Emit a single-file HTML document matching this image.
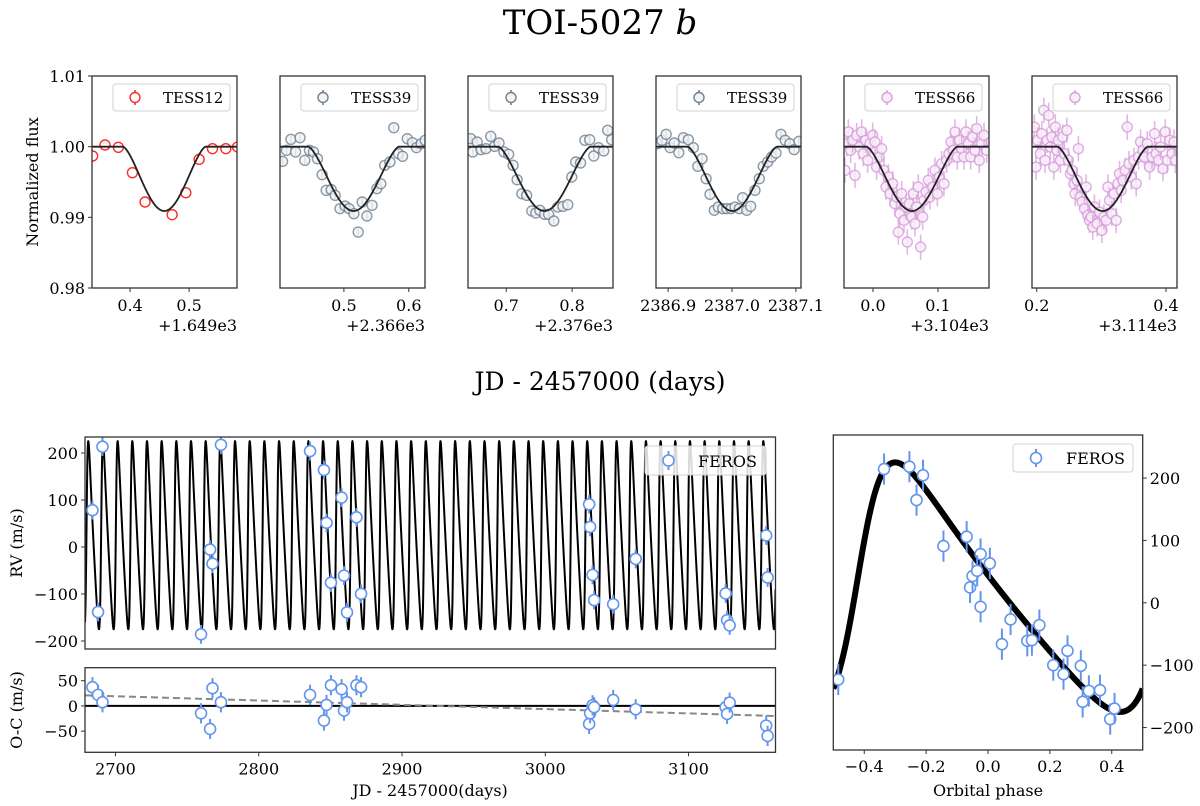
<!DOCTYPE html>
<html><head><meta charset="utf-8"><style>
html,body{margin:0;padding:0;background:#fff;}
svg{display:block;font-family:"DejaVu Serif","Liberation Serif",serif;}
</style></head><body>
<svg id="fig" width="1200" height="806" viewBox="0 0 1200 806" xmlns="http://www.w3.org/2000/svg">
<text x="600" y="34" font-size="34" text-anchor="middle">TOI-5027 <tspan font-style="italic">b</tspan></text>
<text x="600" y="390" font-size="25" text-anchor="middle">JD - 2457000 (days)</text>
<text transform="translate(38,182) rotate(-90)" font-size="16" text-anchor="middle">Normalized flux</text>
<text transform="translate(22,543) rotate(-90)" font-size="16" text-anchor="middle">RV (m/s)</text>
<text transform="translate(22,710) rotate(-90)" font-size="16" text-anchor="middle">O-C (m/s)</text>
<text x="430" y="796" font-size="16" text-anchor="middle">JD - 2457000(days)</text>
<text x="988" y="796" font-size="16" text-anchor="middle">Orbital phase</text>
</svg>
<script>
// ---------- Light curve data ----------
const lcNames = ['TESS12','TESS39','TESS39','TESS39','TESS66','TESS66'];
const lcCenters = [0.458,0.515,0.758,2387.0005,0.060,0.302];
const lcDepth = 0.0091;
const lcDuration = 0.140;
const lcXmin = [0.3356,0.4015,0.642,2386.881,-0.0446,0.1927];
const lcXmax = [0.581,0.625,0.862,2387.108,0.1785,0.417];
const lcTicks = [[0.4,0.5],[0.5,0.6],[0.7,0.8],[2386.9,2387.0,2387.1],[0.0,0.1],[0.2,0.4]];
const lcOffsets = ['+1.649e3','+2.366e3','+2.376e3','','+3.104e3','+3.114e3'];
const fluxTicks = [1.01,1.00,0.99,0.98];
const lcT1 = [0.3367,0.3576,0.3802,0.404,0.4254,0.4712,0.4944,0.5169,0.5395,0.5621,0.5819];
const lcF1 = [0.99868,1.00024,0.99991,0.99632,0.99217,0.99038,0.99349,0.99821,0.99972,0.99972,0.99995];
const lcT2 = [0.4054,0.4115,0.4183,0.4255,0.4323,0.4397,0.4469,0.4531,0.4592,0.4665,0.4726,0.4805,0.4866,0.494,0.5019,0.508,0.5154,0.522,0.5282,0.5355,0.5434,0.5508,0.5569,0.5629,0.5709,0.5769,0.5843,0.5904,0.5977,0.6057,0.6118,0.6191,0.6252];
const lcF2 = [0.99792,0.99948,1.00104,0.99925,1.00127,0.99807,0.99948,0.99925,0.9983,0.99604,0.99382,0.99392,0.99311,0.99123,0.9916,0.99123,0.99052,0.98792,0.99217,0.99019,0.9917,0.99406,0.99476,0.99736,0.99783,1.00269,0.99901,0.99863,1.00113,1.00057,0.99986,1.00042,1.0009];
const lcT3 = [0.6461,0.6492,0.6559,0.6618,0.6692,0.6765,0.6824,0.6891,0.6965,0.7037,0.7104,0.7165,0.7237,0.731,0.7388,0.7449,0.751,0.7582,0.7643,0.7722,0.7782,0.7861,0.7934,0.7994,0.8055,0.8128,0.8194,0.8267,0.8328,0.84,0.8479,0.8539,0.86];
const lcF3 = [1.00113,0.99925,1.00066,0.99958,0.99972,1.00146,1.00005,1.00052,0.99925,0.99892,0.99736,0.99533,0.99335,0.99311,0.9909,0.99061,0.99099,0.99042,0.99042,0.98948,0.99146,0.99156,0.99179,0.99571,0.99783,0.99769,1.0009,1.00099,0.99868,0.99986,0.99939,1.00231,1.00099];
const lcT4 = [2386.8833,2386.8902,2386.8969,2386.9031,2386.9094,2386.9167,2386.9239,2386.9317,2386.9395,2386.9464,2386.9531,2386.9594,2386.9656,2386.9723,2386.9786,2386.9855,2386.9917,2386.9984,2387.0047,2387.0114,2387.0167,2387.023,2387.0292,2387.0359,2387.0427,2387.0489,2387.0558,2387.062,2387.0688,2387.0766,2387.0833,2387.0906,2387.0973,2387.1047];
const lcF4 = [1.00042,1.0009,1.00175,0.99986,1.00052,0.99915,1.00127,1.00099,0.99986,0.99722,0.9983,0.99547,0.99325,0.991,0.99146,0.99123,0.99123,0.99123,0.99146,0.99123,0.99278,0.991,0.99156,0.99382,0.99547,0.99722,0.99783,0.99854,0.9991,1.00175,1.0009,1.00042,0.99958,1.00075];
const lcT5 = [-0.0431,-0.0405,-0.0379,-0.0344,-0.0313,-0.0277,-0.0251,-0.021,-0.0174,-0.0149,-0.0113,-0.0082,-0.0046,-0.0005,0.0031,0.0056,0.0097,0.0133,0.0169,0.02,0.0236,0.0262,0.0303,0.0338,0.0364,0.039,0.0415,0.0441,0.0477,0.0508,0.0528,0.0559,0.0595,0.0621,0.0646,0.0672,0.0697,0.0733,0.0764,0.0785,0.0815,0.0851,0.0877,0.0918,0.0954,0.099,0.1021,0.1056,0.1092,0.1133,0.1169,0.12,0.1236,0.1262,0.1297,0.1328,0.1364,0.14,0.1431,0.1467,0.1503,0.1533,0.1569,0.1595,0.1636,0.1672,0.1708,0.1749];
const lcF5 = [0.99665,1.00042,1.00208,0.99948,1.0009,0.99594,1.0016,0.99995,1.00208,0.99901,1.0009,0.99807,1.00042,1.0016,1.00066,0.99712,0.99854,0.99972,0.99665,0.99429,0.99571,0.99335,0.99476,0.99193,0.99288,0.98792,0.99052,0.99335,0.98958,0.99146,0.98651,0.99193,0.99005,0.99335,0.9891,0.99146,0.99429,0.9858,0.99005,0.99241,0.99358,0.99524,0.99288,0.99429,0.99665,0.99335,0.99571,0.99759,0.99476,0.99807,0.99901,1.00066,0.99948,1.00208,0.99854,1.0009,0.99972,0.99854,1.00208,1.00042,0.99854,1.00137,0.99948,1.00255,0.99807,1.00042,1.0016,0.99948];
const lcT6 = [0.1963,0.1989,0.2016,0.2056,0.2078,0.2109,0.2129,0.216,0.2186,0.2211,0.2233,0.2264,0.2288,0.2315,0.2335,0.2366,0.2403,0.2428,0.2465,0.249,0.2521,0.2547,0.2574,0.2594,0.2625,0.2645,0.2676,0.2702,0.2738,0.2764,0.2791,0.2816,0.2842,0.2868,0.2893,0.2935,0.2971,0.3008,0.3039,0.3074,0.3101,0.3126,0.3163,0.3194,0.3229,0.3256,0.3281,0.3307,0.3333,0.3369,0.34,0.3426,0.3462,0.3504,0.3539,0.3575,0.3606,0.3643,0.3668,0.371,0.3746,0.3783,0.3823,0.3849,0.3885,0.3916,0.3953,0.3989,0.402,0.4056,0.4093,0.4124,0.4144];
const lcF6 = [1.00278,0.99712,1.0009,0.99901,1.00184,1.00514,0.99807,1.0009,1.00443,0.99995,1.00137,0.99712,1.00278,0.99948,1.0009,0.99807,1.00137,0.99901,1.00231,0.99807,0.99618,0.99665,0.99476,0.99335,0.99524,0.99972,0.99288,0.99217,0.99123,0.99429,0.99028,0.98958,0.99005,0.98863,0.99146,0.9891,0.99075,0.98816,0.99005,0.98958,0.99429,0.99241,0.99052,0.99335,0.98958,0.99476,0.99618,0.99382,0.99524,0.99665,1.00278,0.99759,0.99571,0.99807,0.99476,0.99854,1.00066,0.99948,0.99854,1.00042,0.99712,0.99854,1.00184,0.99901,0.99807,0.99995,0.99689,1.00208,0.99807,1.0009,0.99901,1.00066,0.99807];
const lcErr = [0.0003,0.0005,0.0005,0.0005,0.0018,0.0018];

// ---------- RV data ----------
const rvTime = [2683.9,2687.8,2690.9,2759.7,2766.0,2767.7,2773.6,2835.8,2845.5,2847.3,2850.4,2857.8,2859.5,2861.6,2868.2,2871.4,3030.6,3031.3,3033.0,3034.1,3047.4,3063.1,3125.9,3126.9,3128.7,3154.2,3155.2];
const rvValue = [78.3,-138.3,213.4,-185.8,-5.5,-35.6,217.4,204,163.6,51.4,-75.9,105.1,-60.9,-139.1,63.2,-99.6,90.9,42.7,-59.3,-113,-121.7,-25.3,-98.8,-155.7,-166.8,24.5,-64.8];
const ocValue = [37.1,21.9,7.3,-14.6,-45.7,35.1,7.3,21.9,-29.1,2,41.1,33.1,-9.3,7.3,41.1,37.1,-35.8,-14.6,1.3,-2.6,11.9,-6.6,-2.6,-15.9,6.6,-39.1,-59.6];
const rvErr = 20;
const phaseValue = [-0.484,-0.336,-0.254,-0.210,-0.231,-0.144,-0.069,-0.024,0.006,-0.058,-0.050,-0.035,-0.024,0.045,0.073,0.127,0.142,0.166,0.211,0.244,0.257,0.300,0.306,0.326,0.362,0.395,0.409];
const phaseRV = [-123,214.4,218.2,204.3,164.7,90.9,105.9,78.1,63.1,24.6,42.8,51.3,-6.4,-66.3,-26.7,-61,-59.9,-35.8,-100,-114.4,-77,-101,-158.8,-141.2,-140.1,-186.6,-169.5];
const rvTicks = [200,100,0,-100,-200];
const ocTicks = [50,0,-50];
const timeTicks = [2700,2800,2900,3000,3100];
const phaseTicks = [-0.4,-0.2,0.0,0.2,0.4];
const phaseYTicks = [200,100,0,-100,-200];
const orbPeriod = 10.2437, orbT0 = 2387.0005, orbK = 200, orbE = 0.37, orbOmegaDeg = 280, orbGamma = 12.2, orbPeriPhase = -0.414;
const trendStart = [2678.7, 21], trendEnd = [3160.7, -20];

const svg = document.getElementById('fig');
const NS = 'http://www.w3.org/2000/svg';
function mk(tag, attrs, parent){const e=document.createElementNS(NS,tag);for(const k in attrs)e.setAttribute(k,attrs[k]);(parent||svg).appendChild(e);return e;}
function txt(s, attrs, parent){const e=mk('text',attrs,parent);e.textContent=s;return e;}

function transit(t, tc){const u=Math.abs(t-tc)/(lcDuration/2);if(u>=1)return 1;return 1-lcDepth*Math.pow((1+Math.cos(Math.PI*u))/2,0.75);}

const lcColors = ['#ff2a2a','#708090','#708090','#708090','#d9a0dd','#d9a0dd'];
const lcFill = ['#ffffff','#f2f4f6','#f2f4f6','#f2f4f6','#f8eef8','#f8eef8'];
const lcT = [lcT1,lcT2,lcT3,lcT4,lcT5,lcT6];
const lcF = [lcF1,lcF2,lcF3,lcF4,lcF5,lcF6];
const TOP=76, BOT=288, PW=145;
for(let p=0;p<6;p++){
  const L = 92 + p*188;
  const g = mk('g',{});
  
  
  const xs = t => L + (t-lcXmin[p])/(lcXmax[p]-lcXmin[p])*PW;
  const ys = f => TOP + (1.01-f)/0.03*(BOT-TOP);
  const cid='clip'+p;
  const cp=mk('clipPath',{id:cid},g); mk('rect',{x:L,y:TOP,width:PW,height:BOT-TOP},cp);
  const dg = mk('g',{'clip-path':'url(#'+cid+')'},g);
  for(let i=0;i<lcT[p].length;i++){
    const x=xs(lcT[p][i]), y=ys(lcF[p][i]), e=lcErr[p];
    const ln=mk('line',{x1:x,x2:x,y1:ys(lcF[p][i]+e),y2:ys(lcF[p][i]-e),stroke:lcColors[p],'stroke-width':1.6,opacity:p>=4?0.75:0.8},dg);
    
    
    const c=mk('circle',{cx:x,cy:y,r:5,fill:lcFill[p],stroke:lcColors[p],'stroke-width':1.4,opacity:p>=4?0.85:(p>0?0.8:1)},dg);
    
    
  }
  let d='';
  for(let k=0;k<=300;k++){const t=lcXmin[p]+(lcXmax[p]-lcXmin[p])*k/300;d+=(k?'L':'M')+xs(t).toFixed(2)+','+ys(transit(t,lcCenters[p])).toFixed(2);}
  const m=mk('path',{d:d,fill:'none',stroke:'#222','stroke-width':1.8},dg);
  
  
  const fr=mk('rect',{x:L,y:TOP,width:PW,height:BOT-TOP,fill:'none',stroke:'#333','stroke-width':1.3},g);
  
  
  for(const tv of lcTicks[p]){
    const x=xs(tv);
    mk('line',{x1:x,x2:x,y1:BOT,y2:BOT+4,stroke:'#333','stroke-width':1},g);
    const tl=txt(tv.toFixed(1),{x:x,y:BOT+23,'font-size':16,'text-anchor':'middle'},g);
    
    
  }
  if(lcOffsets[p]){const o=txt(lcOffsets[p],{x:L+PW,y:BOT+43,'font-size':16,'text-anchor':'end'},g);
    
    }
  if(p===0){
    for(const fv of fluxTicks){const y=ys(fv);mk('line',{x1:L-4,x2:L,y1:y,y2:y,stroke:'#333'},g);
      const yl=txt(fv.toFixed(2),{x:L-7,y:y+6,'font-size':16,'text-anchor':'end'},g);
      
      }
  }
  const lg=mk('g',{},g);
  
  
  mk('rect',{x:L+21,y:84,width:117,height:27,rx:3,fill:'#fff','fill-opacity':0.85,stroke:'#d0d0d0'},lg);
  mk('line',{x1:L+43,x2:L+43,y1:90,y2:105,stroke:lcColors[p],'stroke-width':1.6},lg);
  mk('circle',{cx:L+43,cy:97.5,r:5,fill:lcFill[p],stroke:lcColors[p],'stroke-width':1.4},lg);
  txt(lcNames[p],{x:L+71,y:103,'font-size':15},lg);
}

// ---------- Kepler RV model ----------
function rvModel(phase){
  const M = 2*Math.PI*(phase - orbPeriPhase);
  let E=M; for(let i=0;i<30;i++){E = E - (E - orbE*Math.sin(E) - M)/(1-orbE*Math.cos(E));}
  const nu = 2*Math.atan2(Math.sqrt(1+orbE)*Math.sin(E/2), Math.sqrt(1-orbE)*Math.cos(E/2));
  const w = orbOmegaDeg*Math.PI/180;
  return orbK*(Math.cos(nu+w)+orbE*Math.cos(w))+orbGamma;
}
function phaseOf(t){let ph=((t-orbT0)/orbPeriod)%1; if(ph<0)ph+=1; if(ph>=0.5)ph-=1; return ph;}

const BLUE='#6495ed';
function rvPoint(parent,x,y,yerrTop,yerrBot,name){
  const l=mk('line',{x1:x,x2:x,y1:yerrTop,y2:yerrBot,stroke:BLUE,'stroke-width':2},parent);
  
  
  const c=mk('circle',{cx:x,cy:y,r:5.5,fill:'#fff',stroke:BLUE,'stroke-width':1.6},parent);
  
  
}

// RV vs time
const RL=85, RR=775.5, RT=437, RB=649, XMIN=2678.7, XMAX=3160.7, YMIN=-217, YMAX=234;
const tx = t => RL+(t-XMIN)/(XMAX-XMIN)*(RR-RL);
const ry = v => RT+(YMAX-v)/(YMAX-YMIN)*(RB-RT);
const rvg=mk('g',{});  
const cpr=mk('clipPath',{id:'cliprv'},rvg); mk('rect',{x:RL,y:RT,width:RR-RL,height:RB-RT},cpr);
const rvd=mk('g',{'clip-path':'url(#cliprv)'},rvg);
let dd='';
for(let t=XMIN;t<=XMAX;t+=0.04){dd+=(dd?'L':'M')+tx(t).toFixed(2)+','+ry(rvModel(phaseOf(t))).toFixed(2);}
const rvl=mk('path',{d:dd,fill:'none',stroke:'#000','stroke-width':2},rvd);


for(let i=0;i<rvTime.length;i++){rvPoint(rvd,tx(rvTime[i]),ry(rvValue[i]),ry(rvValue[i]+rvErr),ry(rvValue[i]-rvErr),'rv-point');}
mk('rect',{x:RL,y:RT,width:RR-RL,height:RB-RT,fill:'none',stroke:'#333','stroke-width':1.3},rvg);
for(const v of rvTicks){const y=ry(v);mk('line',{x1:RL-4,x2:RL,y1:y,y2:y,stroke:'#333'},rvg);
  const l=txt(v===0?'0':(v<0?'\u2212'+(-v):''+v),{x:RL-7,y:y+6,'font-size':16,'text-anchor':'end'},rvg);
   }
const rlg=mk('g',{},rvg);  
mk('rect',{x:645,y:446,width:121,height:29,rx:3,fill:'#fff','fill-opacity':0.85,stroke:'#d0d0d0'},rlg);
rvPoint(rlg,668.5,460.5,451,470,'legend-marker');
txt('FEROS',{x:698,y:467,'font-size':16},rlg);

// O-C panel
const OT=667.7, OB=752.3, OYMIN=-92, OYMAX=75.8;
const oy = v => OT+(OYMAX-v)/(OYMAX-OYMIN)*(OB-OT);
const ocg=mk('g',{});  
const cpo=mk('clipPath',{id:'clipoc'},ocg); mk('rect',{x:RL,y:OT,width:RR-RL,height:OB-OT},cpo);
const ocd=mk('g',{'clip-path':'url(#clipoc)'},ocg);
const zl=mk('line',{x1:RL,x2:RR,y1:oy(0),y2:oy(0),stroke:'#000','stroke-width':2},ocd);
 
const tl=mk('line',{x1:tx(trendStart[0]),x2:tx(trendEnd[0]),y1:oy(trendStart[1]),y2:oy(trendEnd[1]),stroke:'#888','stroke-width':2,'stroke-dasharray':'7,4'},ocd);
 
for(let i=0;i<rvTime.length;i++){rvPoint(ocd,tx(rvTime[i]),oy(ocValue[i]),oy(ocValue[i]+rvErr),oy(ocValue[i]-rvErr),'oc-point');}
mk('rect',{x:RL,y:OT,width:RR-RL,height:OB-OT,fill:'none',stroke:'#333','stroke-width':1.3},ocg);
for(const v of ocTicks){const y=oy(v);mk('line',{x1:RL-4,x2:RL,y1:y,y2:y,stroke:'#333'},ocg);
  const l=txt(v===0?'0':(v<0?'\u2212'+(-v):''+v),{x:RL-7,y:y+6,'font-size':16,'text-anchor':'end'},ocg);
   }
for(const t of timeTicks){const x=tx(t);mk('line',{x1:x,x2:x,y1:OB,y2:OB+4,stroke:'#333'},ocg);
  const l=txt(''+t,{x:x,y:OB+22,'font-size':16,'text-anchor':'middle'},ocg);
   }

// Phase panel
const PL=833.3, PR=1142.7, PT=435, PB=750, PYMIN=-236, PYMAX=269;
const px = ph => PL+(ph+0.5)*(PR-PL);
const py = v => PT+(PYMAX-v)/(PYMAX-PYMIN)*(PB-PT);
const phg=mk('g',{});  
const cpp=mk('clipPath',{id:'clipph'},phg); mk('rect',{x:PL,y:PT,width:PR-PL,height:PB-PT},cpp);
const phd=mk('g',{'clip-path':'url(#clipph)'},phg);
let pd='';
for(let k=0;k<=500;k++){const ph=-0.5+k/500;pd+=(k?'L':'M')+px(ph).toFixed(2)+','+py(rvModel(ph)).toFixed(2);}
const pl=mk('path',{d:pd,fill:'none',stroke:'#000','stroke-width':6,'stroke-linejoin':'round'},phd);
 
for(let i=0;i<phaseValue.length;i++){rvPoint(phd,px(phaseValue[i]),py(phaseRV[i]),py(phaseRV[i]+rvErr+5),py(phaseRV[i]-rvErr-5),'phased-rv-point');}
mk('rect',{x:PL,y:PT,width:PR-PL,height:PB-PT,fill:'none',stroke:'#333','stroke-width':1.3},phg);
for(const v of phaseYTicks){const y=py(v);mk('line',{x1:PR,x2:PR+4,y1:y,y2:y,stroke:'#333'},phg);
  const l=txt(v===0?'0':(v<0?'\u2212'+(-v):''+v),{x:PR+7,y:y+6,'font-size':16,'text-anchor':'start'},phg);
   }
for(const t of phaseTicks){const x=px(t);mk('line',{x1:x,x2:x,y1:PB,y2:PB+4,stroke:'#333'},phg);
  const l=txt(t===0?'0.0':(t<0?'\u2212'+(-t).toFixed(1):t.toFixed(1)),{x:x,y:PB+22,'font-size':16,'text-anchor':'middle'},phg);
   }
const plg=mk('g',{},phg);  
mk('rect',{x:1013,y:444,width:120,height:28,rx:3,fill:'#fff','fill-opacity':0.85,stroke:'#d0d0d0'},plg);
rvPoint(plg,1036,458,449,467,'legend-marker');
txt('FEROS',{x:1066,y:464,'font-size':16},plg);
</script>
</body></html>
